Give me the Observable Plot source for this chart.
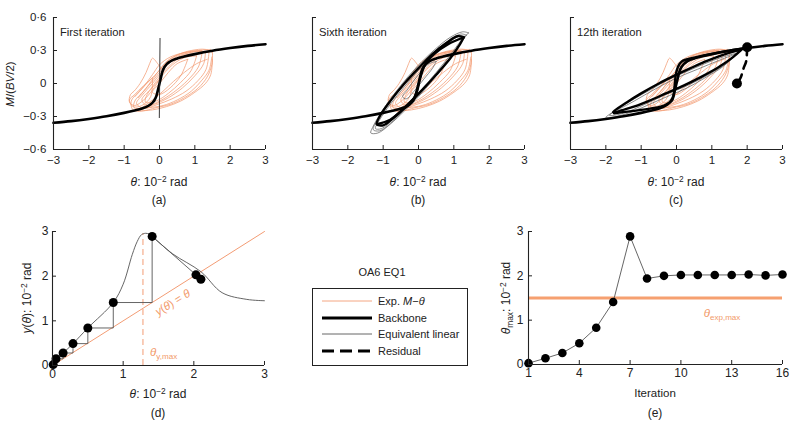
<!DOCTYPE html>
<html><head><meta charset="utf-8">
<script src="https://cdn.jsdelivr.net/npm/d3@7"></script>
<script src="https://cdn.jsdelivr.net/npm/@observablehq/plot@0.6"></script>
<style>
body{margin:0;background:#fff;}
#root{position:relative;width:800px;height:422px;overflow:hidden;font-family:"Liberation Sans",Arial,sans-serif;color:#222;}
.lbl{position:absolute;white-space:nowrap;transform:translate(-50%,-50%);font-size:12px;line-height:1;}
.left{transform:translate(0,-50%);}
.rot{transform:translate(-50%,-50%) rotate(-90deg);}
sup{font-size:0.7em;vertical-align:0.5em;line-height:0;}
sub{font-size:0.7em;vertical-align:-0.3em;line-height:0;}
#legend{position:absolute;left:312px;top:288px;width:154px;height:76px;border:1px solid #222;}
</style></head>
<body><div id="root"></div>
<script>
// ---------- data ----------
const xTicksTop = [-3,-2,-1,0,1,2,3];
const yTicksTop = [-0.6,-0.3,0,0.3,0.6];
const backboneTheta = [-3,-2.5,-2,-1.5,-1,-0.7,-0.5,-0.3,-0.2,-0.14,-0.08,-0.03,0,0.03,0.08,0.14,0.2,0.3,0.5,0.7,1,1.5,2,2.5,3];
const backboneM = [-0.357,-0.342,-0.322,-0.298,-0.267,-0.245,-0.228,-0.2,-0.175,-0.15,-0.105,-0.04,0,0.04,0.105,0.15,0.175,0.2,0.228,0.245,0.267,0.298,0.322,0.342,0.357];

const expLoop1 = [[1.5,0.28],[1.3,0.31],[0.9,0.3],[0.5,0.26],[0.2,0.2],[0.0,0.12],[-0.3,0.02],[-0.6,-0.08],[-0.8,-0.16],[-0.75,-0.24],[-0.5,-0.25],[-0.1,-0.22],[0.3,-0.19],[0.7,-0.13],[1.1,-0.04],[1.35,0.06],[1.48,0.17],[1.5,0.28]];
const expLoop2 = [[1.4,0.28],[1.1,0.29],[0.7,0.27],[0.35,0.22],[0.1,0.14],[-0.15,0.04],[-0.45,-0.07],[-0.7,-0.16],[-0.72,-0.22],[-0.45,-0.23],[-0.05,-0.19],[0.35,-0.14],[0.75,-0.07],[1.1,0.03],[1.32,0.13],[1.4,0.28]];
const expLoop3 = [[1.3,0.29],[1.0,0.29],[0.6,0.25],[0.3,0.19],[0.05,0.1],[-0.2,0.0],[-0.5,-0.11],[-0.65,-0.18],[-0.5,-0.22],[-0.15,-0.19],[0.25,-0.13],[0.65,-0.04],[1.0,0.07],[1.25,0.18],[1.3,0.29]];
const expLoop4 = [[1.2,0.27],[0.9,0.27],[0.55,0.23],[0.25,0.15],[0.0,0.06],[-0.25,-0.05],[-0.5,-0.15],[-0.35,-0.2],[0.0,-0.16],[0.4,-0.08],[0.8,0.03],[1.1,0.15],[1.2,0.27]];
const expLoop5 = [[1.05,0.25],[0.75,0.24],[0.45,0.19],[0.15,0.1],[-0.1,0.0],[-0.35,-0.1],[-0.4,-0.17],[-0.1,-0.16],[0.25,-0.09],[0.6,0.01],[0.9,0.12],[1.05,0.25]];
const expLoop6 = [[0.1,0.12],[-0.05,0.18],[-0.15,0.22],[-0.2,0.23],[-0.28,0.18],[-0.38,0.1],[-0.55,0.0],[-0.72,-0.07],[-0.82,-0.1],[-0.85,-0.17],[-0.7,-0.2],[-0.45,-0.15],[-0.2,-0.06],[0.0,0.04],[0.1,0.12]];
const expLoop7 = [[1.5,0.22],[1.45,0.08],[1.3,0.0],[1.0,-0.08],[0.6,-0.16],[0.2,-0.21],[-0.2,-0.24],[-0.6,-0.25]];
const expLoop8 = [[0.8,0.22],[0.5,0.18],[0.25,0.1],[0.0,0.0],[-0.2,-0.08],[0.0,-0.1],[0.3,-0.04],[0.6,0.07],[0.8,0.22]];
const expLoop9 = [[1.45,0.31],[1.1,0.3],[0.7,0.28],[0.3,0.24],[0.0,0.17],[-0.2,0.08],[-0.45,-0.03],[-0.7,-0.12]];
const expLoop10 = [[1.2,0.3],[0.85,0.29],[0.45,0.25],[0.15,0.18],[-0.1,0.08],[-0.35,-0.03],[-0.6,-0.13]];
const expLoop11 = [[-0.65,-0.23],[-0.3,-0.22],[0.1,-0.2],[0.5,-0.15],[0.9,-0.07],[1.2,0.03],[1.4,0.12],[1.48,0.24]];
const expLoop12 = [[1.35,0.22],[1.05,0.18],[0.7,0.1],[0.4,0.02],[0.1,-0.07],[-0.2,-0.15],[-0.5,-0.22]];
const expLoop13 = [[-0.2,0.05],[-0.45,-0.02],[-0.7,-0.1],[-0.85,-0.15],[-0.75,-0.21],[-0.5,-0.2],[-0.25,-0.12],[-0.2,0.05]];
const expLoops = [expLoop1,expLoop2,expLoop3,expLoop4,expLoop5,expLoop6,expLoop7,expLoop8,expLoop9,expLoop10,expLoop11,expLoop12,expLoop13];

// (a) first iteration equivalent linear
const eqA = [[-0.005,-0.31],[0.015,0.41]];

// (b) sixth iteration
const eqB1 = [[1.42,0.46],[1.25,0.47],[0.9,0.42],[0.5,0.32],[0.1,0.2],[-0.3,0.06],[-0.7,-0.1],[-1.05,-0.26],[-1.3,-0.4],[-1.35,-0.45],[-1.15,-0.45],[-0.8,-0.37],[-0.4,-0.25],[0.0,-0.12],[0.4,0.03],[0.8,0.19],[1.15,0.35],[1.35,0.44],[1.42,0.46]];
const eqB2 = [[1.36,0.44],[1.2,0.45],[0.85,0.39],[0.45,0.29],[0.05,0.16],[-0.35,0.02],[-0.75,-0.14],[-1.1,-0.3],[-1.28,-0.42],[-1.1,-0.43],[-0.75,-0.35],[-0.35,-0.22],[0.05,-0.09],[0.45,0.06],[0.85,0.22],[1.2,0.37],[1.36,0.44]];
const eqB3 = [[1.3,0.43],[1.15,0.43],[0.8,0.36],[0.4,0.25],[0.0,0.12],[-0.4,-0.03],[-0.8,-0.19],[-1.1,-0.33],[-1.22,-0.41],[-1.05,-0.41],[-0.7,-0.32],[-0.3,-0.18],[0.1,-0.05],[0.5,0.1],[0.9,0.26],[1.2,0.39],[1.3,0.43]];
const eqB4 = [[0.5,0.2],[0.3,0.18],[0.1,0.12],[-0.1,0.04],[-0.3,-0.05],[-0.45,-0.12],[-0.35,-0.14],[-0.1,-0.06],[0.15,0.04],[0.4,0.14],[0.5,0.2]];
const loopB = [[1.28,0.42],[1.1,0.43],[0.8,0.37],[0.4,0.27],[0.0,0.14],[-0.4,0.0],[-0.8,-0.16],[-1.1,-0.3],[-1.18,-0.37],[-1.0,-0.38],[-0.7,-0.31],[-0.3,-0.19],[0.1,-0.06],[0.5,0.08],[0.9,0.23],[1.18,0.36],[1.28,0.42]];
const sCurveB = [[-1.18,-0.37],[-0.8,-0.33],[-0.45,-0.24],[-0.2,-0.17],[-0.05,-0.08],[0.05,0.05],[0.2,0.18],[0.45,0.27],[0.85,0.36],[1.28,0.42]];

// (c) 12th iteration
const eqC1 = [[1.75,0.28],[1.3,0.24],[0.8,0.18],[0.3,0.11],[-0.2,0.04],[-0.7,-0.05],[-1.2,-0.14],[-1.6,-0.22],[-2.0,-0.31],[-1.7,-0.3],[-1.2,-0.25],[-0.7,-0.18],[-0.2,-0.11],[0.3,-0.04],[0.8,0.05],[1.3,0.15],[1.75,0.28]];
const eqC2 = [[1.7,0.27],[1.2,0.21],[0.6,0.13],[0.0,0.05],[-0.6,-0.05],[-1.2,-0.16],[-1.9,-0.29],[-1.5,-0.27],[-0.9,-0.19],[-0.3,-0.1],[0.3,-0.02],[0.9,0.08],[1.4,0.18],[1.7,0.27]];
const loopC = [[1.85,0.31],[1.4,0.27],[0.9,0.21],[0.4,0.14],[0.0,0.08],[-0.5,0.0],[-1.0,-0.09],[-1.4,-0.17],[-1.8,-0.26],[-1.3,-0.22],[-0.8,-0.16],[-0.3,-0.09],[0.2,-0.02],[0.7,0.06],[1.2,0.15],[1.6,0.24],[1.85,0.31]];
const sCurveC = [[-1.77,-0.27],[-1.0,-0.24],[-0.35,-0.2],[-0.12,-0.15],[-0.06,-0.04],[-0.02,0.08],[0.04,0.15],[0.15,0.2],[0.5,0.235],[1.17,0.28],[1.93,0.32]];
const residualTheta = [2.0,1.97,1.9,1.81,1.71];
const residualM = [0.33,0.2,0.14,0.05,0.0];

// (d) y(theta) iteration map
const dTicks = [0,1,2,3];
const yCurveTheta = [0,0.01,0.05,0.15,0.29,0.5,0.86,1.0,1.13,1.2,1.26,1.32,1.37,1.41,1.7,2.1,2.4,2.75,3.0];
const yCurveY     = [0,0.02,0.15,0.28,0.49,0.84,1.41,1.82,2.49,2.78,2.93,2.96,2.94,2.89,2.5,2.1,1.63,1.48,1.45];
const dDotTheta = [0.01,0.05,0.15,0.29,0.5,0.86,1.41,2.03,2.1];
const dDotY     = [0.02,0.15,0.28,0.49,0.84,1.41,2.89,2.03,1.93];
const identityLine = [0,3];
const thetaYmax = 1.28;
const thetaYmaxTop = 2.95;

// (e) convergence
const iterations = [1,2,3,4,5,6,7,8,9,10,11,12,13,14,15,16];
const thetaMax   = [0.03,0.14,0.26,0.48,0.83,1.41,2.89,1.94,2.0,2.02,2.02,2.02,2.02,2.03,2.01,2.03];
const eXTicks = [1,4,7,10,13,16];
const eYTicks = [0,1,2,3];
const thetaExpMax = 1.5;

// ---------- styles ----------
const ORANGE = "#f39c74";
const ORANGE_LINE = "#f6a070";
const ORANGE_TXT = "#f29a6a";
const GRAY = "#666";
const root = document.getElementById("root");
const minus = d => d < 0 ? "\u2212" + Math.abs(d) : String(d);
const fmtTopY = d => d === 0 ? "0" : (d < 0 ? "\u2212" : "") + Math.abs(d).toFixed(1).replace(".", "\u00b7");
const P = {x: d => d[0], y: d => d[1]};
const baseStyle = {background: "transparent", overflow: "visible", fontFamily: "Liberation Sans, Arial, sans-serif", color: "#222"};

function place(svg, left, top) {
  svg.style.position = "absolute"; svg.style.left = left + "px"; svg.style.top = top + "px";
  root.appendChild(svg);
}
function label(html, x, y, cls = "", extra = "") {
  const el = document.createElement("div");
  el.className = "lbl " + cls;
  el.style.left = x + "px"; el.style.top = y + "px";
  if (extra) el.style.cssText += extra;
  el.innerHTML = html;
  root.appendChild(el);
  return el;
}
function sc(plot, k) { const s = plot.scale(k); return d3.scaleLinear().domain(s.domain).range(s.range); }

const backbone = backboneTheta.map((t, i) => [t, backboneM[i]]);

function topPanel(left, extra, showY) {
  const W = 280, H = 210, mL = 53, mR = 15, mT = 17, mB = 61;
  const fw = W - mL - mR, fh = H - mT - mB;
  const marks = [
    ...expLoops.map(L => Plot.line(L, {...P, stroke: ORANGE, strokeWidth: 0.75, curve: "catmull-rom"})),
    ...extra.under,
    Plot.line(backbone, {...P, stroke: "#000", strokeWidth: 2.6, curve: "monotone-x"}),
    ...extra.over,
    Plot.ruleX([-3], {stroke: "#222", strokeWidth: 1.1}),
    Plot.ruleY([-0.6], {stroke: "#222", strokeWidth: 1.1}),
    Plot.tickX(xTicksTop, {x: d => d, insetTop: fh - 4, stroke: "#222"}),
    Plot.tickY(yTicksTop, {y: d => d, insetRight: fw - 4, stroke: "#222"}),
    Plot.axisX(xTicksTop, {tickSize: 0, tickPadding: 6, tickFormat: minus, label: null, fontSize: 11.5})
  ];
  if (showY) marks.push(Plot.axisY(yTicksTop, {tickSize: 0, tickPadding: 7, tickFormat: fmtTopY, label: null, fontSize: 11.5}));
  const p = Plot.plot({
    width: W, height: H, marginLeft: mL, marginRight: mR, marginTop: mT, marginBottom: mB,
    x: {domain: [-3, 3], axis: null}, y: {domain: [-0.6, 0.6], axis: null},
    style: {...baseStyle, fontSize: "11.5px"},
    marks
  });
  place(p, left, 0);
  return p;
}

// (a)
const pa = topPanel(0, {
  under: [],
  over: [Plot.line(eqA, {...P, stroke: "#222", strokeWidth: 0.9})]
}, true);
// (b)
const pb = topPanel(259, {
  under: [eqB1, eqB2, eqB3, eqB4].map(L => Plot.line(L, {...P, stroke: GRAY, strokeWidth: 0.75, curve: "catmull-rom"})),
  over: [
    Plot.line(loopB, {...P, stroke: "#000", strokeWidth: 2.4, curve: "catmull-rom"}),
    Plot.line(sCurveB, {...P, stroke: "#000", strokeWidth: 2.4, curve: "catmull-rom"})
  ]
}, false);
// (c)
const residual = residualTheta.map((t, i) => [t, residualM[i]]);
const pc = topPanel(517, {
  under: [eqC1, eqC2].map(L => Plot.line(L, {...P, stroke: GRAY, strokeWidth: 0.75, curve: "catmull-rom"})),
  over: [
    Plot.line(loopC, {...P, stroke: "#000", strokeWidth: 2.4, curve: "catmull-rom"}),
    Plot.line(sCurveC, {...P, stroke: "#000", strokeWidth: 2.4, curve: "catmull-rom"}),
    Plot.line(residual, {...P, stroke: "#000", strokeWidth: 2.6, strokeDasharray: "8,6", curve: "catmull-rom"}),
    Plot.dot([residual[0], residual[residual.length - 1]], {...P, r: 5, fill: "#000"})
  ]
}, false);

const titles = ["First iteration", "Sixth iteration", "12th iteration"];
const caps = ["(a)", "(b)", "(c)"];
[[pa, 0], [pb, 259], [pc, 517]].forEach(([p, left], i) => {
  const sx = sc(p, "x"), sy = sc(p, "y");
  const cx = left + (sx(-3) + sx(3)) / 2;
  label(titles[i], left + sx(-3) + 7, sy(0.6) + 16, "left", "font-size:11.2px");
  label("<i>θ</i>: 10<sup>\u22122</sup> rad", cx, 182);
  label(caps[i], cx, 200);
});
label("<i>M</i>/(<i>BV</i>/2)", 11, 84, "rot", "font-size:11.5px");

// (d)
const yCurve = yCurveTheta.map((t, i) => [t, yCurveY[i]]);
const dDots = dDotTheta.map((t, i) => [t, dDotY[i]]);
const stair = [];
for (let i = 0; i < 6; i++) {
  stair.push(dDots[i], [dDots[i + 1][0], dDots[i][1]], dDots[i + 1]);
}
const afterPeak = dDots.slice(6);
const pd = Plot.plot({
  width: 280, height: 202, marginLeft: 52, marginRight: 16, marginTop: 11, marginBottom: 57,
  x: {domain: [0, 3], axis: null}, y: {domain: [0, 3], axis: null},
  style: {...baseStyle, fontSize: "12px"},
  marks: [
    Plot.line(identityLine, {x: d => d, y: d => d, stroke: ORANGE, strokeWidth: 1}),
    Plot.ruleX([thetaYmax], {y1: 0, y2: thetaYmaxTop, stroke: ORANGE, strokeWidth: 1, strokeDasharray: "6,4"}),
    Plot.line(stair, {...P, stroke: "#555", strokeWidth: 0.9}),
    Plot.line(yCurve, {...P, stroke: "#555", strokeWidth: 0.9, curve: "catmull-rom"}),
    Plot.line(afterPeak, {...P, stroke: "#555", strokeWidth: 0.9}),
    Plot.dot(dDots, {...P, r: 4.5, fill: "#000"}),
    Plot.ruleX([0], {stroke: "#222", strokeWidth: 1.1}),
    Plot.ruleY([0], {stroke: "#222", strokeWidth: 1.1}),
    Plot.tickX(dTicks, {x: d => d, insetTop: 134 - 4, stroke: "#222"}),
    Plot.tickY(dTicks, {y: d => d, insetRight: 212 - 4, stroke: "#222"}),
    Plot.axisX(dTicks, {tickSize: 0, tickPadding: 4, label: null, fontSize: 12}),
    Plot.axisY(dTicks, {tickSize: 0, tickPadding: 4, label: null, fontSize: 12})
  ]
});
place(pd, 0, 220);
{
  const sx = sc(pd, "x"), sy = sc(pd, "y");
  const cx = (sx(0) + sx(3)) / 2;
  label("<i>θ</i>: 10<sup>\u22122</sup> rad", cx, 394);
  label("(d)", cx, 413);
  label("<i>y</i>(<i>θ</i>): 10<sup>\u22122</sup> rad", 27, 220 + (sy(0) + sy(3)) / 2, "rot");
  label("<i>y</i>(<i>θ</i>) = <i>θ</i>", sx(1.715), 220 + sy(1.38), "", `color:${ORANGE_TXT};transform:translate(-50%,-50%) rotate(-32deg);font-size:11.5px`);
  label("<i>θ</i><sub>y,max</sub>", sx(1.58), 220 + sy(0.27), "", `color:${ORANGE_TXT};font-size:11.5px`);
}

// (e)
const eData = iterations.map((t, i) => [t, thetaMax[i]]);
const pe = Plot.plot({
  width: 300, height: 202, marginLeft: 28, marginRight: 18, marginTop: 11, marginBottom: 58,
  x: {domain: [1, 16], axis: null}, y: {domain: [0, 3], axis: null},
  style: {...baseStyle, fontSize: "12px"},
  marks: [
    Plot.ruleY([thetaExpMax], {x1: 1, x2: 16, stroke: ORANGE_LINE, strokeWidth: 3}),
    Plot.line(eData, {...P, stroke: "#555", strokeWidth: 0.9}),
    Plot.dot(eData, {...P, r: 4.3, fill: "#000"}),
    Plot.ruleX([1], {stroke: "#222", strokeWidth: 1.1}),
    Plot.ruleY([0], {stroke: "#222", strokeWidth: 1.1}),
    Plot.tickX(eXTicks, {x: d => d, insetTop: 133 - 4, stroke: "#222"}),
    Plot.tickY(eYTicks, {y: d => d, insetRight: 254 - 4, stroke: "#222"}),
    Plot.axisX(eXTicks, {tickSize: 0, tickPadding: 4, label: null, fontSize: 12}),
    Plot.axisY(eYTicks, {tickSize: 0, tickPadding: 5, label: null, fontSize: 12})
  ]
});
place(pe, 500, 220);
{
  const sx = sc(pe, "x"), sy = sc(pe, "y");
  const cx = 500 + (sx(1) + sx(16)) / 2;
  label("Iteration", cx, 394, "", "font-size:11.5px");
  label("(e)", cx, 413);
  label("<i>θ</i><sub>max</sub>: 10<sup>\u22122</sup> rad", 506, 220 + (sy(0) + sy(3)) / 2, "rot");
  label("<i>θ</i><sub>exp,max</sub>", 500 + sx(12.46), 220 + sy(1.12), "", `color:${ORANGE_TXT};font-size:11.5px`);
}

// legend
label("OA6 EQ1", 382, 272, "", "font-size:11px");
const legendItems = [
  {name: "Exp. <i>M</i>\u2212<i>θ</i>", stroke: ORANGE, w: 0.9, dash: null},
  {name: "Backbone", stroke: "#000", w: 3, dash: null},
  {name: "Equivalent linear", stroke: GRAY, w: 1, dash: null},
  {name: "Residual", stroke: "#000", w: 3, dash: "12,6"}
];
const lg = document.createElement("div");
lg.id = "legend";
root.appendChild(lg);
legendItems.forEach((it, i) => {
  const y = 12 + i * 16.7;
  const s = d3.select(lg).append("svg").attr("width", 60).attr("height", 10)
    .style("position", "absolute").style("left", "9px").style("top", (y - 5) + "px");
  s.append("line").attr("x1", 0).attr("x2", 50).attr("y1", 5).attr("y2", 5)
    .attr("stroke", it.stroke).attr("stroke-width", it.w).attr("stroke-dasharray", it.dash);
  const t = document.createElement("div");
  t.className = "lbl left";
  t.style.left = "65px"; t.style.top = y + "px"; t.style.fontSize = "11px";
  t.innerHTML = it.name;
  lg.appendChild(t);
});
</script></body></html>
